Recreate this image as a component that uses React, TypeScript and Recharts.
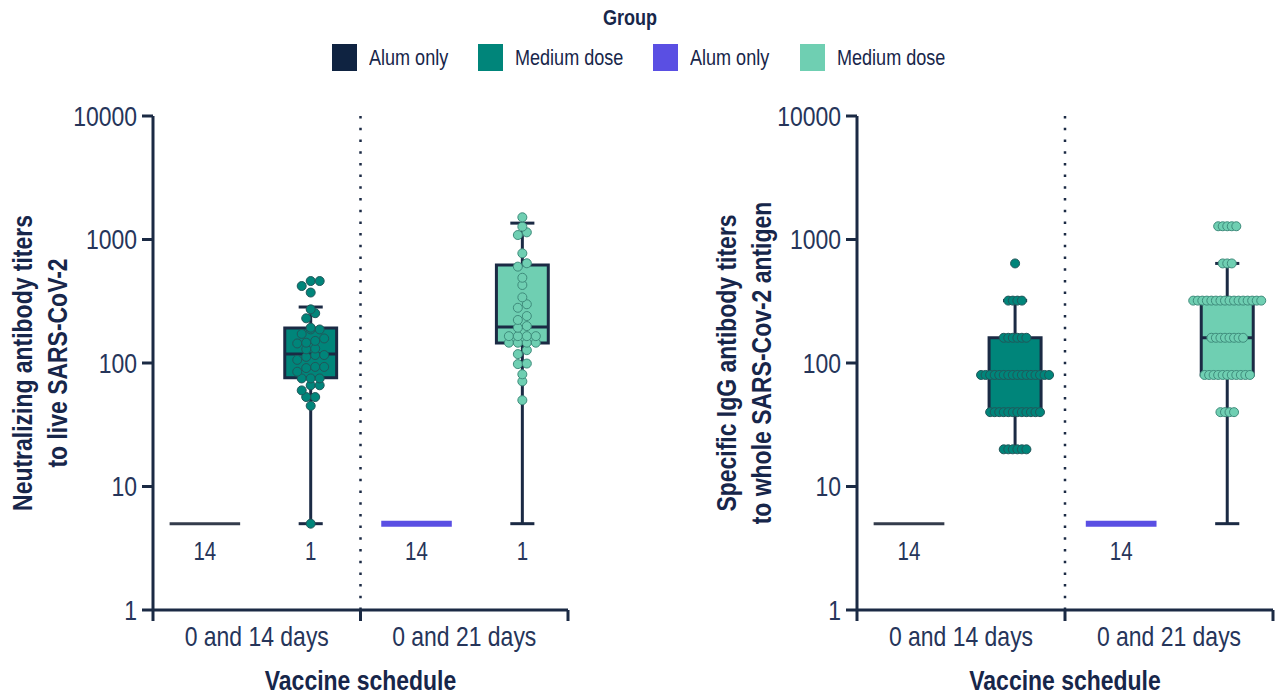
import React from 'react';
import {
  ScatterChart,
  Scatter,
  XAxis,
  YAxis,
  ReferenceArea,
  ReferenceLine,
  Label,
} from 'recharts';

// Liberation Sans squeezed horizontally stands in for Arial Narrow
const FONT = "'Liberation Sans', Arial, sans-serif";
const NARROW = 0.82;
const INK = '#17264a';
const TICK_INK = '#26355a';
const AXIS = '#1b2a44';

const schedules = ['0 and 14 days', '0 and 21 days'];
const groupNames = ['Alum only', 'Medium dose', 'Alum only', 'Medium dose'];
const groupColors = ['#0f2341', '#00857a', '#5a4fe3', '#6fcfb2'];
const dotStrokes = ['#0f2341', '#21575a', '#5a4fe3', '#3f8c7c'];
const yTicks = [1, 10, 100, 1000, 10000];

// box stats per group: [whisker low, q1, median, q3, whisker high]
const neutStats = [
  [5, 5, 5, 5, 5],
  [5, 76, 118, 192, 284],
  [5, 5, 5, 5, 5],
  [5, 145, 196, 621, 1357],
];
const neutMed14 = [
  461, 461, 420, 372, 272, 253, 230, 193, 187, 187, 172, 158, 151, 146, 144,
  131, 129, 116, 116, 112, 106, 93, 93, 91, 85, 75, 75, 75, 66, 66, 60, 53, 53,
  45, 5,
];
const neutMed21 = [
  1513, 1270, 1143, 1087, 773, 642, 603, 490, 428, 340, 299, 280, 240, 223, 199,
  193, 165, 165, 165, 165, 146, 146, 146, 146, 127, 118, 99, 98, 81, 71, 50,
];
const neutCounts = ['14', '1', '14', '1'];

const iggStats = [
  [5, 5, 5, 5, 5],
  [20, 40, 80, 160, 320],
  [5, 5, 5, 5, 5],
  [5, 80, 160, 320, 640],
];
const iggMed14 = [
  640, 320, 320, 320, 320, 160, 160, 160, 160, 160, 160, 80, 80, 80, 80, 80, 80,
  80, 80, 80, 80, 80, 80, 80, 80, 80, 80, 40, 40, 40, 40, 40, 40, 40, 40, 40,
  40, 40, 40, 20, 20, 20, 20, 20, 20,
];
const iggMed21 = [
  1280, 1280, 1280, 1280, 1280, 640, 640, 640, 320, 320, 320, 320, 320, 320,
  320, 320, 320, 320, 320, 320, 320, 320, 320, 320, 160, 160, 160, 160, 160,
  160, 160, 160, 80, 80, 80, 80, 80, 80, 80, 80, 80, 80, 80, 40, 40, 40, 40,
];
const iggCounts = ['14', '', '14', ''];

// x layout, in category units (one category = one schedule)
const SLOT_START = 0.25;
const SLOT_GAP = 0.51;
const BOX_HALF = 0.125;
const LINE_HALF = 0.17;
const CAP_HALF = 0.058;
const DOT_STEP = 0.0433;
const MAX_SPREAD = 0.327;
const ROW_SPAN = 0.045; // decades
const COUNT_Y = 3;

const slotX = (i: number) => SLOT_START + SLOT_GAP * i;

// simple swarm: values close on the log axis share a row and get spread sideways
function swarm(values: number[], center: number) {
  const sorted = [...values].sort((a, b) => a - b);
  const rows: number[][] = [];
  for (const v of sorted) {
    const row = rows[rows.length - 1];
    if (row && Math.log10(v) - Math.log10(row[0]) < ROW_SPAN) row.push(v);
    else rows.push([v]);
  }
  const widest = Math.max(...rows.map((r) => r.length));
  const step = Math.min(DOT_STEP, MAX_SPREAD / Math.max(widest - 1, 1));
  return rows.flatMap((row) =>
    row.map((v, i) => ({ x: center + (i - (row.length - 1) / 2) * step, y: v }))
  );
}

let measureCtx: CanvasRenderingContext2D | null = null;
function narrowWidth(text: string, font: string) {
  if (!measureCtx) measureCtx = document.createElement('canvas').getContext('2d');
  if (!measureCtx) return text.length * 10;
  measureCtx.font = font;
  return measureCtx.measureText(text).width * NARROW;
}

function NarrowText({
  x,
  y,
  size,
  anchor = 'middle',
  bold = false,
  fill = INK,
  rotate = false,
  dy,
  children,
}: {
  x: number;
  y: number;
  size: number;
  anchor?: 'start' | 'middle' | 'end';
  bold?: boolean;
  fill?: string;
  rotate?: boolean;
  dy?: string;
  children: React.ReactNode;
}) {
  return (
    <text
      transform={`translate(${x} ${y})${rotate ? ' rotate(-90)' : ''} scale(${NARROW} 1)`}
      dy={dy}
      textAnchor={anchor}
      fontSize={size}
      fontWeight={bold ? 'bold' : 'normal'}
      fontFamily={FONT}
      fill={fill}
    >
      {children}
    </text>
  );
}

function ScheduleTick({ x, y, payload }: any) {
  const v = payload.value;
  if (Number.isInteger(v)) {
    return <line x1={x} x2={x} y1={y} y2={y + 11} stroke={AXIS} strokeWidth={3} />;
  }
  return (
    <NarrowText x={x} y={y + 36} size={28} fill={TICK_INK}>
      {schedules[Math.floor(v)]}
    </NarrowText>
  );
}

function TiterTick({ x, y, payload }: any) {
  return (
    <NarrowText x={x} y={y} size={28} anchor="end" fill={TICK_INK} dy="0.355em">
      {payload.value}
    </NarrowText>
  );
}

function YTitle({ viewBox, lines }: any) {
  const { x, y, height } = viewBox;
  const cy = y + height / 2;
  return (
    <g>
      {lines.map((t: string, i: number) => (
        <NarrowText key={i} x={x - 61 + i * 35} y={cy} size={28} bold rotate>
          {t}
        </NarrowText>
      ))}
    </g>
  );
}

function XTitle({ viewBox }: any) {
  const { x, y, width } = viewBox;
  return (
    <NarrowText x={x + width / 2} y={y + 80} size={28} bold>
      Vaccine schedule
    </NarrowText>
  );
}

function Panel({
  left,
  width,
  marginRight,
  stats,
  points,
  counts,
  titleLines,
}: {
  left: number;
  width: number;
  marginRight: number;
  stats: number[][];
  points: number[][];
  counts: string[];
  titleLines: string[];
}) {
  const countData = counts
    .map((c, i) => ({ x: slotX(i), y: COUNT_Y, label: c }))
    .filter((d) => d.label !== '');

  return (
    <div style={{ position: 'absolute', left, top: 0 }}>
      <ScatterChart
        width={width}
        height={696}
        margin={{ top: 116, right: marginRight, bottom: 26, left: 93 }}
      >
        <XAxis
          type="number"
          dataKey="x"
          domain={[0, 2]}
          ticks={[0, 0.5, 1, 1.5, 2]}
          allowDataOverflow
          height={60}
          tickLine={false}
          tickSize={0}
          tickMargin={0}
          tick={<ScheduleTick />}
          axisLine={{ stroke: AXIS, strokeWidth: 3 }}
        >
          <Label content={(p: any) => <XTitle {...p} />} />
        </XAxis>
        <YAxis
          type="number"
          dataKey="y"
          scale="log"
          domain={[1, 10000]}
          ticks={yTicks}
          allowDataOverflow
          width={60}
          tickSize={11}
          tickMargin={5}
          tick={<TiterTick />}
          tickLine={{ stroke: AXIS, strokeWidth: 3 }}
          axisLine={{ stroke: AXIS, strokeWidth: 3 }}
        >
          <Label content={(p: any) => <YTitle {...p} lines={titleLines} />} />
        </YAxis>

        <ReferenceLine
          x={1}
          stroke={AXIS}
          strokeWidth={2.5}
          strokeDasharray="2.5 9.2"
          zIndex={50}
        />

        {stats.map(([lo, q1, med, q3, hi], i) => {
          const cx = slotX(i);
          if (q1 === q3) {
            return (
              <ReferenceLine
                key={`flat-${i}`}
                segment={[
                  { x: cx - LINE_HALF, y: med },
                  { x: cx + LINE_HALF, y: med },
                ]}
                stroke={i === 0 ? '#343c4c' : groupColors[i]}
                strokeWidth={i === 0 ? 3 : 6}
                zIndex={120}
              />
            );
          }
          return (
            <React.Fragment key={`box-${i}`}>
              <ReferenceLine
                segment={[
                  { x: cx, y: lo },
                  { x: cx, y: hi },
                ]}
                stroke={AXIS}
                strokeWidth={3}
                zIndex={90}
              />
              <ReferenceLine
                segment={[
                  { x: cx - CAP_HALF, y: lo },
                  { x: cx + CAP_HALF, y: lo },
                ]}
                stroke={AXIS}
                strokeWidth={3}
                zIndex={90}
              />
              <ReferenceLine
                segment={[
                  { x: cx - CAP_HALF, y: hi },
                  { x: cx + CAP_HALF, y: hi },
                ]}
                stroke={AXIS}
                strokeWidth={3}
                zIndex={90}
              />
              <ReferenceArea
                x1={cx - BOX_HALF}
                x2={cx + BOX_HALF}
                y1={q1}
                y2={q3}
                fill={groupColors[i]}
                fillOpacity={1}
                stroke={AXIS}
                strokeWidth={3}
                zIndex={100}
              />
              <ReferenceLine
                segment={[
                  { x: cx - BOX_HALF, y: med },
                  { x: cx + BOX_HALF, y: med },
                ]}
                stroke={AXIS}
                strokeWidth={3}
                zIndex={110}
              />
            </React.Fragment>
          );
        })}

        {points.map((vals, i) =>
          vals.length === 0 ? null : (
            <Scatter
              key={`pts-${i}`}
              name={groupNames[i]}
              data={swarm(vals, slotX(i))}
              isAnimationActive={false}
              zIndex={800}
              shape={(p: any) => (
                <circle
                  cx={p.cx}
                  cy={p.cy}
                  r={4.5}
                  fill={groupColors[i]}
                  stroke={dotStrokes[i]}
                  strokeWidth={1}
                />
              )}
            />
          )
        )}

        <Scatter
          data={countData}
          isAnimationActive={false}
          zIndex={800}
          shape={(p: any) => (
            <NarrowText x={p.cx} y={p.cy} size={25} fill={TICK_INK} dy="0.35em">
              {p.payload.label}
            </NarrowText>
          )}
        />
      </ScatterChart>
    </div>
  );
}

function GroupLegend() {
  const labelFont = `22px ${FONT}`;
  return (
    <div
      style={{
        position: 'absolute',
        left: 0,
        top: 0,
        width: 1278,
        fontFamily: FONT,
        color: INK,
        lineHeight: 1,
      }}
    >
      <div
        style={{
          position: 'absolute',
          left: 0,
          width: 1260,
          top: 7,
          textAlign: 'center',
          fontSize: 22,
          fontWeight: 'bold',
        }}
      >
        <span style={{ display: 'inline-block', transform: `scaleX(${NARROW})` }}>
          Group
        </span>
      </div>
      <div
        style={{
          position: 'absolute',
          left: 332,
          top: 44,
          display: 'flex',
          alignItems: 'center',
        }}
      >
        {groupNames.map((name, i) => (
          <div key={i} style={{ display: 'flex', alignItems: 'center', marginRight: 30 }}>
            <span
              style={{
                width: 25,
                height: 27,
                background: groupColors[i],
                marginRight: 12,
              }}
            />
            <span
              style={{
                width: narrowWidth(name, labelFont),
                fontSize: 22,
                whiteSpace: 'nowrap',
              }}
            >
              <span
                style={{
                  display: 'inline-block',
                  transform: `scaleX(${NARROW})`,
                  transformOrigin: 'left center',
                }}
              >
                {name}
              </span>
            </span>
          </div>
        ))}
      </div>
    </div>
  );
}

export default function App() {
  return (
    <div
      style={{
        position: 'fixed',
        left: 0,
        top: 0,
        width: 1278,
        height: 696,
        background: '#ffffff',
        overflow: 'hidden',
      }}
    >
      <GroupLegend />
      <Panel
        left={0}
        width={640}
        marginRight={72}
        stats={neutStats}
        points={[[], neutMed14, [], neutMed21]}
        counts={neutCounts}
        titleLines={['Neutralizing antibody titers', 'to live SARS-CoV-2']}
      />
      <Panel
        left={704}
        width={574}
        marginRight={5}
        stats={iggStats}
        points={[[], iggMed14, [], iggMed21]}
        counts={iggCounts}
        titleLines={['Specific IgG antibody titers', 'to whole SARS-Cov-2 antigen']}
      />
    </div>
  );
}
